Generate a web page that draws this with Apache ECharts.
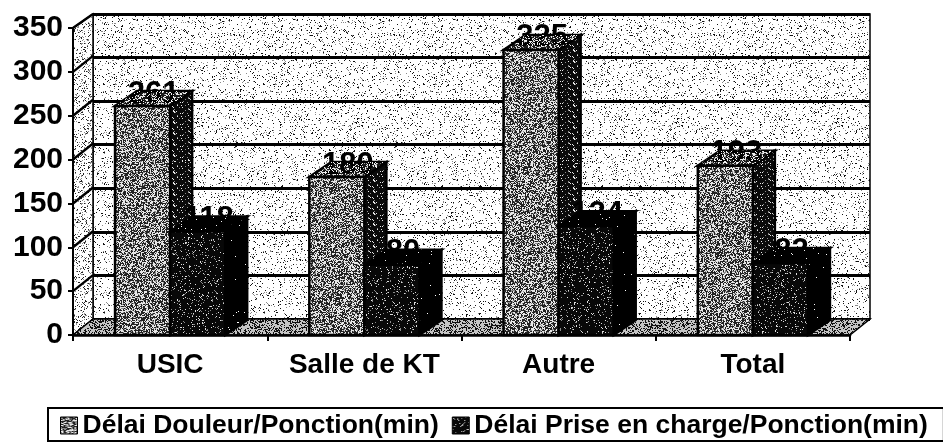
<!DOCTYPE html>
<html>
<head>
<meta charset="utf-8">
<style>html,body{margin:0;padding:0;background:#fff}#c{width:943px;height:443px}</style>
<script src="https://cdn.jsdelivr.net/npm/echarts@6/dist/echarts.min.js"></script>
</head>
<body>
<div id="c"></div>
<script>
var categories = ['USIC', 'Salle de KT', 'Autre', 'Total'];
var douleurValues = [261, 180, 325, 193];
var priseValues = [118, 80, 124, 82];
var yTicks = [0, 50, 100, 150, 200, 250, 300, 350];
var douleurName = 'Délai Douleur/Ponction(min)';
var priseName = 'Délai Prise en charge/Ponction(min)';

var FONT = '"Liberation Sans", Arial, sans-serif';
var DEPTH_X = 22, DEPTH_Y = 15, WALL_X = 20, WALL_Y = 16;

// print-grain textures (fixed pseudo-noise: decoration only, no data)
function grain(seed, bg, fg, density, grey) {
  var size = 160, cv = document.createElement('canvas');
  cv.width = cv.height = size;
  var ctx = cv.getContext('2d'), s = seed;
  function r() { s = (s * 1103515245 + 12345) & 0x7fffffff; return (s >> 8 & 0xffff) / 65536; }
  if (bg) { ctx.fillStyle = bg; ctx.fillRect(0, 0, size, size); }
  for (var y = 0; y < size; y++) for (var x = 0; x < size; x++) {
    var v = r();
    if (v < density) { ctx.fillStyle = fg; ctx.fillRect(x, y, 1, 1); }
    else if (grey && v < density + grey) { ctx.fillStyle = '#8a8a8a'; ctx.fillRect(x, y, 1, 1); }
  }
  return { image: cv, repeat: 'repeat' };
}
var wallFill = grain(11, '#ffffff', '#111111', 0.06, 0.05);
var leftWallFill = grain(17, '#ffffff', '#222222', 0.10, 0.08);
var floorFill = grain(23, '#c4c4c4', '#111111', 0.36, 0);
var lightFront = grain(31, '#e8e8e8', '#222222', 0.48, 0.12);
var lightSide = grain(37, '#0a0a0a', '#e8e8e8', 0.09, 0.05);
var lightTop = grain(41, '#181818', '#e0e0e0', 0.20, 0.10);
var darkFront = grain(43, '#080808', '#dddddd', 0.05, 0.05);
var darkSide = grain(47, '#000000', '#ffffff', 0.004, 0);
var darkTop = grain(53, '#000000', '#ffffff', 0.004, 0);
var lightTopSpecks = grain(59, null, '#f0f0f0', 0.16, 0);
var darkTopSpecks = grain(61, null, '#f0f0f0', 0.01, 0);

function poly(points, fill, z2, noStroke) {
  return { type: 'polygon', z2: z2 || 0, shape: { points: points },
    style: { fill: fill, stroke: noStroke ? null : '#000', lineWidth: noStroke ? 0 : 2.5, lineJoin: 'miter' } };
}

function barRenderer(offset, front, side, top, specks) {
  return function (params, api) {
    var i = api.value(0), v = api.value(1);
    var c = api.coord([i, v]), base = api.coord([i, 0]);
    var w = api.size([1, 0])[0] * 0.2835;
    var x0 = c[0] + (offset < 0 ? -w : 0), x1 = x0 + w;
    var yT = c[1], yB = base[1];
    var topFace = [[x0, yT], [x1, yT], [x1 + DEPTH_X, yT - DEPTH_Y], [x0 + DEPTH_X, yT - DEPTH_Y]];
    return { type: 'group', children: [
      poly([[x1, yT], [x1 + DEPTH_X, yT - DEPTH_Y], [x1 + DEPTH_X, yB - DEPTH_Y], [x1, yB]], side, 1),
      poly(topFace, top, 1),
      { type: 'text', z2: 2, style: {
          text: String(v), x: (x0 + x1) / 2 + DEPTH_X / 2, y: yT - DEPTH_Y + 3,
          fill: '#000', font: 'bold 31px ' + FONT,
          align: 'center', textAlign: 'center', verticalAlign: 'middle', textVerticalAlign: 'middle' } },
      poly(topFace, specks, 3, true),
      poly([[x0, yT], [x1, yT], [x1, yB], [x0, yB]], front, 4)
    ] };
  };
}

function wallRenderer(params, api) {
  var g = params.coordSys, L = g.x, R = g.x + g.width;
  var y0 = api.coord([0, 0])[1], yTop = api.coord([0, 350])[1];
  var children = [
    { type: 'polygon', shape: { points: [[L, y0], [L + WALL_X, y0 - WALL_Y], [L + WALL_X, yTop - 14], [L, yTop]] },
      style: { fill: leftWallFill, stroke: '#000', lineWidth: 1.5 } },
    { type: 'polygon', shape: { points: [[L, y0], [L + WALL_X, y0 - WALL_Y], [R + WALL_X, y0 - WALL_Y], [R, y0]] },
      style: { fill: floorFill, stroke: '#000', lineWidth: 1.5 } }
  ];
  yTicks.forEach(function (t) {
    if (t === 0) return;
    var y = api.coord([0, t])[1];
    children.push({ type: 'line', shape: { x1: L, y1: y, x2: L + WALL_X, y2: y - (t === 350 ? 14 : WALL_Y) },
      style: { stroke: '#000', lineWidth: 2.5 } });
  });
  return { type: 'group', children: children };
}

var chart = echarts.init(document.getElementById('c'), null, { renderer: 'canvas' });
chart.setOption({
  animation: false,
  backgroundColor: '#fff',
  grid: [
    { left: 73, right: 93, top: 28, bottom: 108 },
    { left: 93, right: 73, top: 14, bottom: 124, show: true, backgroundColor: wallFill, borderColor: '#000', borderWidth: 1.5 }
  ],
  xAxis: [
    { type: 'category', gridIndex: 0, data: categories, z: 6,
      axisLine: { lineStyle: { color: '#000', width: 2.5 } },
      axisTick: { show: true, interval: 0, length: 6, alignWithLabel: false, lineStyle: { color: '#000', width: 2 } },
      axisLabel: { color: '#000', interval: 0, hideOverlap: false, fontFamily: FONT, fontWeight: 'bold', fontSize: 28, margin: 16 } },
    { type: 'category', gridIndex: 1, data: categories, axisLine: { show: false }, axisTick: { show: false }, axisLabel: { show: false } }
  ],
  yAxis: [
    { type: 'value', gridIndex: 0, min: 0, max: 350, interval: 50, z: 6, splitLine: { show: false },
      axisLine: { show: true, lineStyle: { color: '#000', width: 2 } },
      axisTick: { show: true, length: 5, lineStyle: { color: '#000', width: 2 } },
      axisLabel: { color: '#000', fontFamily: FONT, fontWeight: 'bold', fontSize: 30, margin: 10 } },
    { type: 'value', gridIndex: 1, min: 0, max: 350, interval: 50,
      splitLine: { show: true, lineStyle: { color: '#000', width: 3 } },
      axisLine: { show: false }, axisTick: { show: false }, axisLabel: { show: false } }
  ],
  legend: {
    left: 48, top: 408, width: 890, selectedMode: false,
    orient: 'horizontal',
    padding: [4, 16, 2, 12], itemGap: 13, itemWidth: 17, itemHeight: 17,
    borderColor: '#000', borderWidth: 2,
    textStyle: { color: '#000', fontFamily: FONT, fontWeight: 'bold', fontSize: 26.5 },
    data: [
      { name: douleurName, icon: 'rect', itemStyle: { color: lightFront, borderColor: '#000', borderWidth: 1 } },
      { name: priseName, icon: 'rect', itemStyle: { color: darkFront, borderColor: '#000', borderWidth: 1 } }
    ]
  },
  series: [
    { type: 'custom', name: 'walls', xAxisIndex: 0, yAxisIndex: 0, z: 1, silent: true, renderItem: wallRenderer, data: [[0, 0]] },
    { type: 'custom', name: douleurName, xAxisIndex: 0, yAxisIndex: 0, z: 2, renderItem: barRenderer(-1, lightFront, lightSide, lightTop, lightTopSpecks),
      itemStyle: { color: lightFront }, encode: { x: 0, y: 1 }, data: douleurValues.map(function (v, i) { return [i, v]; }) },
    { type: 'custom', name: priseName, xAxisIndex: 0, yAxisIndex: 0, z: 3, renderItem: barRenderer(1, darkFront, darkSide, darkTop, darkTopSpecks),
      itemStyle: { color: darkFront }, encode: { x: 0, y: 1 }, data: priseValues.map(function (v, i) { return [i, v]; }) }
  ]
});
</script>
</body>
</html>
